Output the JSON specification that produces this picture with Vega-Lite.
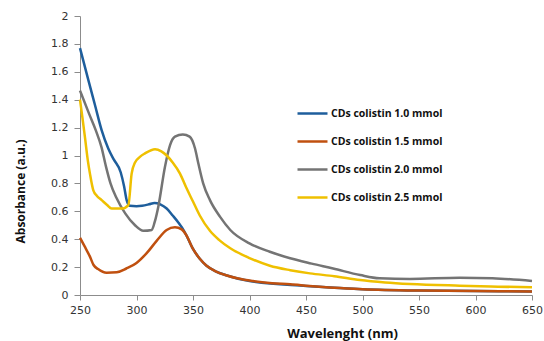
{
  "$schema": "https://vega.github.io/schema/vega-lite/v6.json",
  "width": 452,
  "height": 279,
  "autosize": {"type": "none"},
  "padding": {"left": 80, "top": 16, "right": 12, "bottom": 46},
  "background": "white",
  "config": {"view": {"stroke": null}},
  "datasets": {
    "spectra": [
      {"s": "CDs colistin 1.0 mmol", "wl": 250, "a": 1.77},
      {"s": "CDs colistin 1.0 mmol", "wl": 257.4, "a": 1.54},
      {"s": "CDs colistin 1.0 mmol", "wl": 263.3, "a": 1.36},
      {"s": "CDs colistin 1.0 mmol", "wl": 269.2, "a": 1.18},
      {"s": "CDs colistin 1.0 mmol", "wl": 275, "a": 1.05},
      {"s": "CDs colistin 1.0 mmol", "wl": 280, "a": 0.97},
      {"s": "CDs colistin 1.0 mmol", "wl": 286, "a": 0.88},
      {"s": "CDs colistin 1.0 mmol", "wl": 289, "a": 0.78},
      {"s": "CDs colistin 1.0 mmol", "wl": 291.3, "a": 0.68},
      {"s": "CDs colistin 1.0 mmol", "wl": 294, "a": 0.64},
      {"s": "CDs colistin 1.0 mmol", "wl": 300, "a": 0.637},
      {"s": "CDs colistin 1.0 mmol", "wl": 305, "a": 0.64},
      {"s": "CDs colistin 1.0 mmol", "wl": 311, "a": 0.65},
      {"s": "CDs colistin 1.0 mmol", "wl": 316, "a": 0.66},
      {"s": "CDs colistin 1.0 mmol", "wl": 321, "a": 0.65},
      {"s": "CDs colistin 1.0 mmol", "wl": 326.7, "a": 0.62},
      {"s": "CDs colistin 1.0 mmol", "wl": 332, "a": 0.57},
      {"s": "CDs colistin 1.0 mmol", "wl": 337, "a": 0.52},
      {"s": "CDs colistin 1.0 mmol", "wl": 342, "a": 0.46},
      {"s": "CDs colistin 1.0 mmol", "wl": 344, "a": 0.43},
      {"s": "CDs colistin 1.0 mmol", "wl": 350, "a": 0.33},
      {"s": "CDs colistin 1.0 mmol", "wl": 356, "a": 0.26},
      {"s": "CDs colistin 1.0 mmol", "wl": 362, "a": 0.21},
      {"s": "CDs colistin 1.0 mmol", "wl": 370, "a": 0.17},
      {"s": "CDs colistin 1.0 mmol", "wl": 380, "a": 0.14},
      {"s": "CDs colistin 1.0 mmol", "wl": 400, "a": 0.1},
      {"s": "CDs colistin 1.0 mmol", "wl": 450, "a": 0.065},
      {"s": "CDs colistin 1.0 mmol", "wl": 500, "a": 0.042},
      {"s": "CDs colistin 1.0 mmol", "wl": 550, "a": 0.032},
      {"s": "CDs colistin 1.0 mmol", "wl": 600, "a": 0.028},
      {"s": "CDs colistin 1.0 mmol", "wl": 650, "a": 0.025},

      {"s": "CDs colistin 1.5 mmol", "wl": 250, "a": 0.41},
      {"s": "CDs colistin 1.5 mmol", "wl": 254, "a": 0.35},
      {"s": "CDs colistin 1.5 mmol", "wl": 258.8, "a": 0.275},
      {"s": "CDs colistin 1.5 mmol", "wl": 262, "a": 0.215},
      {"s": "CDs colistin 1.5 mmol", "wl": 266, "a": 0.186},
      {"s": "CDs colistin 1.5 mmol", "wl": 273.6, "a": 0.16},
      {"s": "CDs colistin 1.5 mmol", "wl": 282.5, "a": 0.163},
      {"s": "CDs colistin 1.5 mmol", "wl": 291, "a": 0.19},
      {"s": "CDs colistin 1.5 mmol", "wl": 300, "a": 0.23},
      {"s": "CDs colistin 1.5 mmol", "wl": 309, "a": 0.3},
      {"s": "CDs colistin 1.5 mmol", "wl": 318, "a": 0.39},
      {"s": "CDs colistin 1.5 mmol", "wl": 326.7, "a": 0.466},
      {"s": "CDs colistin 1.5 mmol", "wl": 334, "a": 0.485},
      {"s": "CDs colistin 1.5 mmol", "wl": 340, "a": 0.47},
      {"s": "CDs colistin 1.5 mmol", "wl": 344, "a": 0.43},
      {"s": "CDs colistin 1.5 mmol", "wl": 350, "a": 0.33},
      {"s": "CDs colistin 1.5 mmol", "wl": 356, "a": 0.26},
      {"s": "CDs colistin 1.5 mmol", "wl": 362, "a": 0.21},
      {"s": "CDs colistin 1.5 mmol", "wl": 370, "a": 0.17},
      {"s": "CDs colistin 1.5 mmol", "wl": 380, "a": 0.14},
      {"s": "CDs colistin 1.5 mmol", "wl": 390, "a": 0.118},
      {"s": "CDs colistin 1.5 mmol", "wl": 403, "a": 0.1},
      {"s": "CDs colistin 1.5 mmol", "wl": 420, "a": 0.085},
      {"s": "CDs colistin 1.5 mmol", "wl": 436, "a": 0.077},
      {"s": "CDs colistin 1.5 mmol", "wl": 453, "a": 0.065},
      {"s": "CDs colistin 1.5 mmol", "wl": 475, "a": 0.052},
      {"s": "CDs colistin 1.5 mmol", "wl": 500, "a": 0.042},
      {"s": "CDs colistin 1.5 mmol", "wl": 550, "a": 0.032},
      {"s": "CDs colistin 1.5 mmol", "wl": 600, "a": 0.028},
      {"s": "CDs colistin 1.5 mmol", "wl": 650, "a": 0.025},

      {"s": "CDs colistin 2.0 mmol", "wl": 250, "a": 1.465},
      {"s": "CDs colistin 2.0 mmol", "wl": 258, "a": 1.3},
      {"s": "CDs colistin 2.0 mmol", "wl": 264, "a": 1.18},
      {"s": "CDs colistin 2.0 mmol", "wl": 269, "a": 1.06},
      {"s": "CDs colistin 2.0 mmol", "wl": 273, "a": 0.92},
      {"s": "CDs colistin 2.0 mmol", "wl": 277, "a": 0.8},
      {"s": "CDs colistin 2.0 mmol", "wl": 282, "a": 0.7},
      {"s": "CDs colistin 2.0 mmol", "wl": 290, "a": 0.585},
      {"s": "CDs colistin 2.0 mmol", "wl": 298.7, "a": 0.5},
      {"s": "CDs colistin 2.0 mmol", "wl": 306, "a": 0.46},
      {"s": "CDs colistin 2.0 mmol", "wl": 313.5, "a": 0.466},
      {"s": "CDs colistin 2.0 mmol", "wl": 316, "a": 0.52},
      {"s": "CDs colistin 2.0 mmol", "wl": 319.3, "a": 0.633},
      {"s": "CDs colistin 2.0 mmol", "wl": 325.2, "a": 0.92},
      {"s": "CDs colistin 2.0 mmol", "wl": 329.7, "a": 1.075},
      {"s": "CDs colistin 2.0 mmol", "wl": 334, "a": 1.135},
      {"s": "CDs colistin 2.0 mmol", "wl": 341, "a": 1.15},
      {"s": "CDs colistin 2.0 mmol", "wl": 347, "a": 1.135},
      {"s": "CDs colistin 2.0 mmol", "wl": 351.8, "a": 1.05},
      {"s": "CDs colistin 2.0 mmol", "wl": 354.7, "a": 0.944},
      {"s": "CDs colistin 2.0 mmol", "wl": 359, "a": 0.8},
      {"s": "CDs colistin 2.0 mmol", "wl": 365, "a": 0.68},
      {"s": "CDs colistin 2.0 mmol", "wl": 374, "a": 0.56},
      {"s": "CDs colistin 2.0 mmol", "wl": 383, "a": 0.466},
      {"s": "CDs colistin 2.0 mmol", "wl": 400, "a": 0.37},
      {"s": "CDs colistin 2.0 mmol", "wl": 418, "a": 0.31},
      {"s": "CDs colistin 2.0 mmol", "wl": 436, "a": 0.263},
      {"s": "CDs colistin 2.0 mmol", "wl": 455, "a": 0.225},
      {"s": "CDs colistin 2.0 mmol", "wl": 474, "a": 0.19},
      {"s": "CDs colistin 2.0 mmol", "wl": 498, "a": 0.143},
      {"s": "CDs colistin 2.0 mmol", "wl": 515, "a": 0.12},
      {"s": "CDs colistin 2.0 mmol", "wl": 542, "a": 0.115},
      {"s": "CDs colistin 2.0 mmol", "wl": 586, "a": 0.124},
      {"s": "CDs colistin 2.0 mmol", "wl": 615, "a": 0.12},
      {"s": "CDs colistin 2.0 mmol", "wl": 650, "a": 0.1},

      {"s": "CDs colistin 2.5 mmol", "wl": 250, "a": 1.4},
      {"s": "CDs colistin 2.5 mmol", "wl": 252, "a": 1.28},
      {"s": "CDs colistin 2.5 mmol", "wl": 254.4, "a": 1.13},
      {"s": "CDs colistin 2.5 mmol", "wl": 257, "a": 0.96},
      {"s": "CDs colistin 2.5 mmol", "wl": 258.8, "a": 0.87},
      {"s": "CDs colistin 2.5 mmol", "wl": 261.8, "a": 0.75},
      {"s": "CDs colistin 2.5 mmol", "wl": 265, "a": 0.71},
      {"s": "CDs colistin 2.5 mmol", "wl": 269.2, "a": 0.68},
      {"s": "CDs colistin 2.5 mmol", "wl": 274, "a": 0.645},
      {"s": "CDs colistin 2.5 mmol", "wl": 278, "a": 0.62},
      {"s": "CDs colistin 2.5 mmol", "wl": 287, "a": 0.62},
      {"s": "CDs colistin 2.5 mmol", "wl": 292.8, "a": 0.645},
      {"s": "CDs colistin 2.5 mmol", "wl": 295.7, "a": 0.87},
      {"s": "CDs colistin 2.5 mmol", "wl": 298.7, "a": 0.95},
      {"s": "CDs colistin 2.5 mmol", "wl": 303, "a": 0.99},
      {"s": "CDs colistin 2.5 mmol", "wl": 307.5, "a": 1.015},
      {"s": "CDs colistin 2.5 mmol", "wl": 316.4, "a": 1.045},
      {"s": "CDs colistin 2.5 mmol", "wl": 322, "a": 1.03},
      {"s": "CDs colistin 2.5 mmol", "wl": 326.7, "a": 1.0},
      {"s": "CDs colistin 2.5 mmol", "wl": 332, "a": 0.95},
      {"s": "CDs colistin 2.5 mmol", "wl": 338.5, "a": 0.87},
      {"s": "CDs colistin 2.5 mmol", "wl": 344, "a": 0.77},
      {"s": "CDs colistin 2.5 mmol", "wl": 350, "a": 0.67},
      {"s": "CDs colistin 2.5 mmol", "wl": 356, "a": 0.57},
      {"s": "CDs colistin 2.5 mmol", "wl": 365, "a": 0.46},
      {"s": "CDs colistin 2.5 mmol", "wl": 373, "a": 0.395},
      {"s": "CDs colistin 2.5 mmol", "wl": 383, "a": 0.335},
      {"s": "CDs colistin 2.5 mmol", "wl": 400, "a": 0.265},
      {"s": "CDs colistin 2.5 mmol", "wl": 418, "a": 0.21},
      {"s": "CDs colistin 2.5 mmol", "wl": 436, "a": 0.178},
      {"s": "CDs colistin 2.5 mmol", "wl": 453.5, "a": 0.155},
      {"s": "CDs colistin 2.5 mmol", "wl": 475, "a": 0.135},
      {"s": "CDs colistin 2.5 mmol", "wl": 497.8, "a": 0.107},
      {"s": "CDs colistin 2.5 mmol", "wl": 520, "a": 0.09},
      {"s": "CDs colistin 2.5 mmol", "wl": 542, "a": 0.079},
      {"s": "CDs colistin 2.5 mmol", "wl": 586, "a": 0.067},
      {"s": "CDs colistin 2.5 mmol", "wl": 620, "a": 0.06},
      {"s": "CDs colistin 2.5 mmol", "wl": 650, "a": 0.055}
    ]
  },
  "data": {"name": "spectra"},
  "mark": {"type": "line", "strokeWidth": 2.5, "interpolate": "monotone"},
  "encoding": {
    "x": {
      "field": "wl", "type": "quantitative",
      "scale": {"domain": [250, 650], "nice": false, "zero": false},
      "axis": {
        "title": "Wavelenght (nm)",
        "values": [250, 300, 350, 400, 450, 500, 550, 600, 650],
        "grid": false,
        "labelFlush": false,
        "labelOverlap": false,
        "labelBound": false,
        "domainColor": "#8c8c8c", "tickColor": "#8c8c8c", "tickSize": 5,
        "labelFont": "DejaVu Sans", "labelFontSize": 11, "labelColor": "#333333", "labelPadding": 4,
        "titleFont": "Open Sans", "titleFontSize": 13, "titleFontWeight": "bold", "titleColor": "#111111",
        "titleX": 262, "titleY": 38, "titleBaseline": "middle"
      }
    },
    "y": {
      "field": "a", "type": "quantitative",
      "scale": {"domain": [0, 2], "nice": false},
      "axis": {
        "title": "Absorbance (a.u.)",
        "values": [0, 0.2, 0.4, 0.6, 0.8, 1, 1.2, 1.4, 1.6, 1.8, 2],
        "format": ".1~f",
        "grid": false,
        "labelFlush": false,
        "labelOverlap": false,
        "domainColor": "#8c8c8c", "tickColor": "#8c8c8c", "tickSize": 6,
        "labelFont": "DejaVu Sans", "labelFontSize": 11, "labelColor": "#333333", "labelPadding": 6,
        "titleFont": "Open Sans", "titleFontSize": 12, "titleFontWeight": "bold", "titleColor": "#111111",
        "titleX": -60, "titleY": 175, "titleBaseline": "middle", "titleAlign": "center"
      }
    },
    "color": {
      "field": "s", "type": "nominal",
      "scale": {
        "domain": ["CDs colistin 1.0 mmol", "CDs colistin 1.5 mmol", "CDs colistin 2.0 mmol", "CDs colistin 2.5 mmol"],
        "range": ["#1E5E9C", "#C0500F", "#747474", "#EFC000"]
      },
      "legend": {
        "title": null,
        "orient": "none",
        "legendX": 216,
        "legendY": 81,
        "symbolType": "stroke",
        "symbolSize": 900,
        "symbolStrokeWidth": 2.5,
        "rowPadding": 6,
        "labelFont": "Open Sans",
        "labelFontSize": 10.5,
        "labelFontWeight": "bold",
        "labelColor": "#111111",
        "labelOffset": 2
      }
    }
  }
}
